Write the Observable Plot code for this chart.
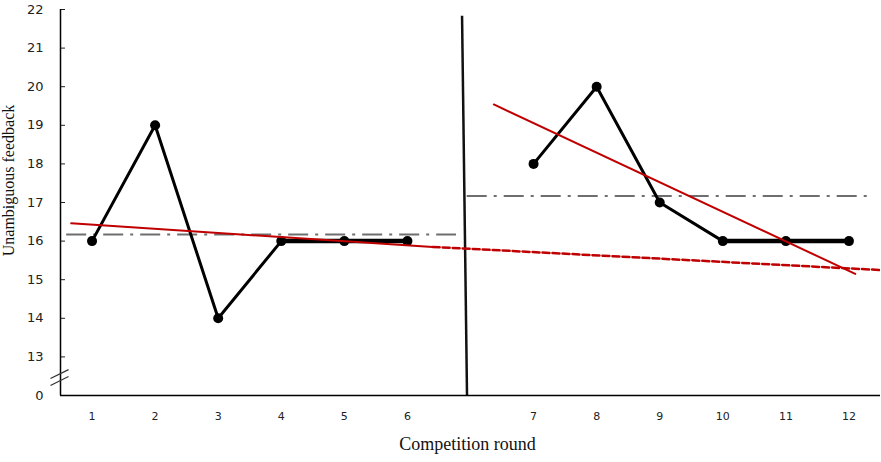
<!DOCTYPE html>
<html>
<head>
<meta charset="utf-8">
<script src="https://cdn.jsdelivr.net/npm/d3@7"></script>
<script src="https://cdn.jsdelivr.net/npm/@observablehq/plot@0.6"></script>
<style>
  html, body { margin: 0; padding: 0; background: #fff; }
  #chart svg { display: block; }
</style>
</head>
<body>
<div id="chart"></div>
<script>
// ---- data ----
const rounds = [1, 2, 3, 4, 5, 6, 7, 8, 9, 10, 11, 12];
const scores = [16, 19, 14, 16, 16, 16, 18, 20, 17, 16, 16, 16];
const phases = ["before", "before", "before", "before", "before", "before",
                "after", "after", "after", "after", "after", "after"];
const yTickValues = [12, 13, 14, 15, 16, 17, 18, 19, 20, 21, 22];
const yTickLabels = ["0", "13", "14", "15", "16", "17", "18", "19", "20", "21", "22"];
// phase means (dash-dot) and their horizontal extent (x positions)
const meanBefore = 16.17, meanAfter = 17.17;
const meanBeforeSpan = [0.59, 6.77];
const meanAfterSpan = [6.94, 13.29];
// trend lines (read endpoints)
const trendBefore = [{x: 0.67, y: 16.46}, {x: 6.40, y: 15.85}];
const trendBeforeExt = [{x: 6.40, y: 15.85}, {x: 13.5, y: 15.25}];
const trendAfter = [{x: 7.37, y: 19.54}, {x: 13.10, y: 15.15}];
// phase divider
const divider = [{x1: 6.866, y1: 21.84, x2: 6.945, y2: 12}];
// axis break marker strokes
const breakMarks = [
  {x1: 0.341, y1: 12.44, x2: 0.627, y2: 12.67},
  {x1: 0.341, y1: 12.26, x2: 0.627, y2: 12.49}
];

// position of a round on the x axis (gap between round 6 and 7)
const pos = r => r <= 6 ? r : r + 1;
const data = rounds.map((r, i) => ({round: r, x: pos(r), y: scores[i], phase: phases[i]}));
const flat = data.filter((d, i) => i > 0 && d.y === 16 && (data[i - 1].y === 16 || (data[i + 1] && data[i + 1].y === 16)));

const red = "#c00000";
const gray = "#6e6e6e";

const chart = Plot.plot({
  width: 881,
  height: 462,
  marginLeft: 60,
  marginRight: 1,
  marginTop: 9,
  marginBottom: 67,
  style: {fontFamily: "DejaVu Sans", fontSize: "11px", color: "#222", background: "#fff"},
  x: {domain: [0.5, 13.5]},
  y: {domain: [12, 22]},
  marks: [
    // means
    Plot.link([{x1: meanBeforeSpan[0], x2: meanBeforeSpan[1], y: meanBefore}], {
      x1: "x1", x2: "x2", y1: "y", y2: "y", stroke: gray, strokeWidth: 2, strokeDasharray: "20,7,3,7"
    }),
    Plot.link([{x1: meanAfterSpan[0], x2: meanAfterSpan[1], y: meanAfter}], {
      x1: "x1", x2: "x2", y1: "y", y2: "y", stroke: gray, strokeWidth: 2, strokeDasharray: "20,7,3,7"
    }),
    // divider
    Plot.link(divider, {x1: "x1", y1: "y1", x2: "x2", y2: "y2", stroke: "#111", strokeWidth: 2.5}),
    // data line
    Plot.line(data, {x: "x", y: "y", z: "phase", stroke: "#000", strokeWidth: 3}),
    Plot.line(flat, {x: "x", y: "y", z: "phase", stroke: "#000", strokeWidth: 4.5}),
    Plot.dot(data, {x: "x", y: "y", r: 5, fill: "#000"}),
    // trends
    Plot.line(trendBefore, {x: "x", y: "y", stroke: red, strokeWidth: 2}),
    Plot.line(trendBeforeExt, {x: "x", y: "y", stroke: red, strokeWidth: 2.5, strokeDasharray: "7,3", clip: true}),
    Plot.line(trendAfter, {x: "x", y: "y", stroke: red, strokeWidth: 2}),
    // axes
    Plot.axisY({
      ticks: yTickValues, tickFormat: (d, i) => yTickLabels[i],
      tickSize: -5, tickPadding: 22, label: null, fontSize: 13
    }),
    Plot.ruleX([0.5], {stroke: "#000", strokeWidth: 1.5}),
    Plot.axisX({
      ticks: rounds.map(pos), tickFormat: (d, i) => String(rounds[i]),
      tickSize: 0, tickPadding: 17, label: null, fontSize: 11
    }),
    Plot.ruleY([12], {stroke: "#000", strokeWidth: 1.5}),
    // axis break marker
    Plot.link(breakMarks, {x1: "x1", y1: "y1", x2: "x2", y2: "y2", stroke: "#333", strokeWidth: 1.2}),
    // axis titles
    Plot.text(["Competition round"], {
      frameAnchor: "bottom", dy: 54, dx: -3, fontFamily: "Liberation Serif", fontSize: 18, fill: "#111"
    }),
    Plot.text(["Unambiguous feedback"], {
      frameAnchor: "left", dx: -52, dy: -22, rotate: -90, textAnchor: "middle",
      fontFamily: "Liberation Serif", fontSize: 16, fill: "#111"
    })
  ]
});
document.getElementById("chart").appendChild(chart);
</script>
</body>
</html>
